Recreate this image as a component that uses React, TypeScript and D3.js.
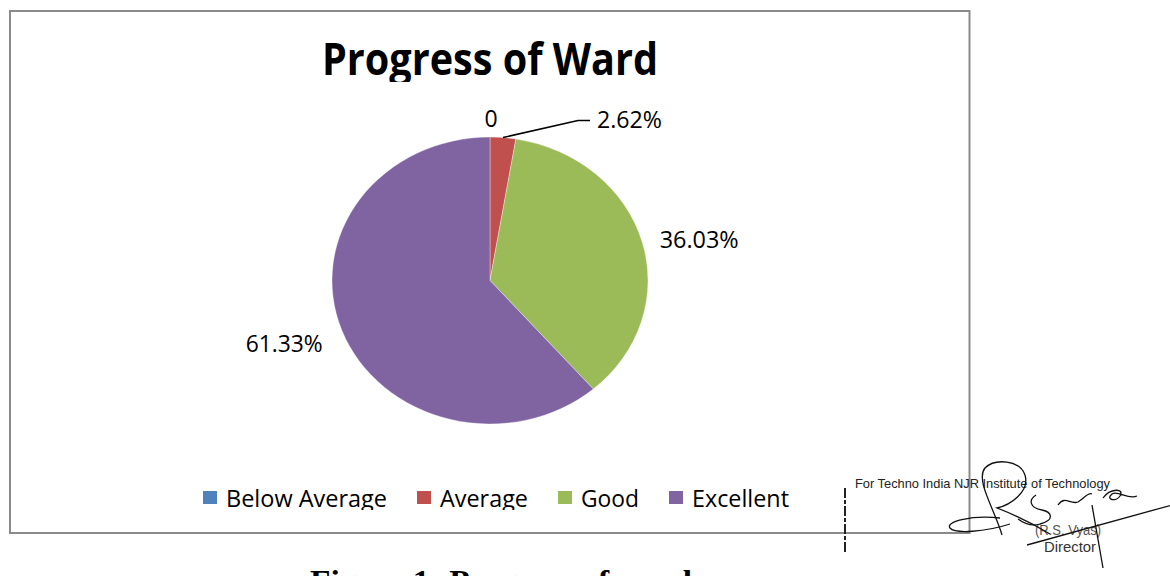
import React from "react";
import * as d3 from "d3";

const categories = ["Below Average", "Average", "Good", "Excellent"];
const values = [0, 2.62, 36.03, 61.33];
const labels = ["0", "2.62%", "36.03%", "61.33%"];
const colors = ["#4F81BD", "#C0504D", "#9BBB59", "#8064A2"];
const title = "Progress of Ward";
const caption = "Figure 1: Progress of ward";

const W = 1170;
const H = 576;
const cx = 490;
const cy = 280.5;
const R = 158;
const yScale = 0.908;
const FONT = "'Open Sans', 'Noto Sans', sans-serif";

// legend text widths (layout estimates)
const legendTextW = [161, 88, 58, 97];

export default function App() {
  const pie = d3.pie<number>().value((d) => d).sort(null).startAngle(0).endAngle(2 * Math.PI);
  const arcs = pie(values);
  const arcGen = d3.arc<d3.PieArcDatum<number>>().innerRadius(0).outerRadius(R);

  const pt = (angle: number, r: number) => [cx + Math.sin(angle) * r, cy - Math.cos(angle) * r * yScale];

  // legend layout
  const sq = 14;
  const gapA = 9;
  const gapB = 30;
  const totalW = legendTextW.reduce((s, w) => s + sq + gapA + w, 0) + gapB * (legendTextW.length - 1);
  let lx = 496 - totalW / 2;
  const legendItems = categories.map((c, i) => {
    const item = { x: lx, w: legendTextW[i], c, color: colors[i] };
    lx += sq + gapA + legendTextW[i] + gapB;
    return item;
  });

  const labelEls = arcs.map((a, i) => {
    const mid = (a.startAngle + a.endAngle) / 2;
    if (values[i] === 0) {
      const [x, y] = pt(mid, R + 14);
      return (
        <text key={i} x={x + 1} y={y + 3} textAnchor="middle" fontSize={23} fontFamily={FONT} fill="#000">
          {labels[i]}
        </text>
      );
    }
    if (a.endAngle - a.startAngle < 0.3) {
      const [x0, y0] = pt(mid, R);
      const x1 = x0 + 75;
      const y1 = y0 - 17;
      const x2 = x1 + 12;
      return (
        <g key={i}>
          <polyline points={`${x0},${y0} ${x1},${y1} ${x2},${y1}`} fill="none" stroke="#000" strokeWidth={1.5} />
          <text x={x2 + 7} y={y1 + 7} fontSize={23} fontFamily={FONT} fill="#000" textLength={65} lengthAdjust="spacingAndGlyphs">
            {labels[i]}
          </text>
        </g>
      );
    }
    const right = Math.sin(mid) > 0;
    const [x, y] = pt(mid, R + 12);
    return (
      <text
        key={i}
        x={x + (right ? 6 : -8)}
        y={y + (right ? 9 : 18)}
        textAnchor={right ? "start" : "end"}
        fontSize={23}
        fontFamily={FONT}
        fill="#000"
        textLength={right ? 79 : 77}
        lengthAdjust="spacingAndGlyphs"
      >
        {labels[i]}
      </text>
    );
  });

  return (
    <svg width={W} height={H} style={{ position: "absolute", left: 0, top: 0, background: "#fff" }}>
      <defs>
        <clipPath id="titleClip">
          <rect x={0} y={0} width={W} height={82} />
        </clipPath>
        <clipPath id="legendClip">
          <rect x={0} y={470} width={W} height={40} />
        </clipPath>
      </defs>
      <rect x={0} y={0} width={W} height={H} fill="#fff" />
      {/* chart frame */}
      <rect x={10} y={11} width={959.5} height={522} fill="#fff" stroke="#8a8a8a" strokeWidth={2} />

      {/* title */}
      <g clipPath="url(#titleClip)">
        <text
          x={490}
          y={75}
          textAnchor="middle"
          fontSize={45}
          fontWeight="bold"
          fontFamily={FONT}
          fill="#000"
          textLength={336}
          lengthAdjust="spacingAndGlyphs"
        >
          {title}
        </text>
      </g>

      {/* pie */}
      <g transform={`translate(${cx},${cy}) scale(1,${yScale})`}>
        {arcs.map((a, i) => (
          <path key={i} d={arcGen(a) || ""} fill={colors[i]} stroke="#fff" strokeWidth={0.6} strokeOpacity={0.6} />
        ))}
      </g>

      {labelEls}

      {/* legend */}
      <g clipPath="url(#legendClip)">
        {legendItems.map((it, i) => (
          <g key={i}>
            <rect x={it.x} y={491} width={sq} height={13} fill={it.color} />
            <text
              x={it.x + sq + gapA}
              y={507}
              fontSize={23}
              fontFamily={FONT}
              fill="#000"
              textLength={it.w}
              lengthAdjust="spacingAndGlyphs"
            >
              {it.c}
            </text>
          </g>
        ))}
      </g>

      {/* caption below the chart (cut off by the page) */}
      <text
        x={310}
        y={592}
        fontSize={32}
        fontWeight="bold"
        fontFamily="'Liberation Serif', 'Times New Roman', serif"
        fill="#000"
        textLength={382}
        lengthAdjust="spacingAndGlyphs"
      >
        {caption}
      </text>

      {/* stamp / signature */}
      <g>
        <line x1={845} y1={488} x2={845} y2={552} stroke="#222" strokeWidth={2} strokeDasharray="10 2 4 2" />
        <text
          x={855}
          y={488}
          fontSize={13.5}
          fontFamily="'Liberation Sans', Arial, sans-serif"
          fill="#222"
          textLength={255}
          lengthAdjust="spacingAndGlyphs"
        >
          For Techno India NJR Institute of Technology
        </text>
        <text x={1035} y={535} fontSize={14} fontFamily="'Liberation Sans', Arial, sans-serif" fill="#555" textLength={66} lengthAdjust="spacingAndGlyphs">
          (R.S. Vyas)
        </text>
        <text x={1044} y={552} fontSize={14} fontFamily="'Liberation Sans', Arial, sans-serif" fill="#333" textLength={52} lengthAdjust="spacingAndGlyphs">
          Director
        </text>
        <g fill="none" stroke="#111" strokeWidth={1.3}>
          <path d="M 1000 518 C 970 515 945 522 950 528 C 955 534 985 532 1010 524" />
          <path d="M 1002 535 C 995 510 975 480 985 468 C 995 458 1020 460 1025 475 C 1030 492 1010 505 997 508 C 1015 515 1035 525 1050 534" />
          <path d="M 1036 495 C 1028 500 1030 508 1042 510 C 1052 512 1055 520 1040 524 C 1030 527 1022 522 1018 519" />
          <path d="M 1058 505 C 1065 495 1070 505 1078 502 C 1085 498 1088 492 1092 494" />
          <path d="M 1103 498 C 1110 488 1125 488 1120 496 C 1116 502 1105 500 1112 494 C 1118 490 1128 500 1137 496" />
          <path d="M 1027 545 L 1172 505" />
          <path d="M 1092 505 L 1103 568" />
        </g>
      </g>
    </svg>
  );
}
